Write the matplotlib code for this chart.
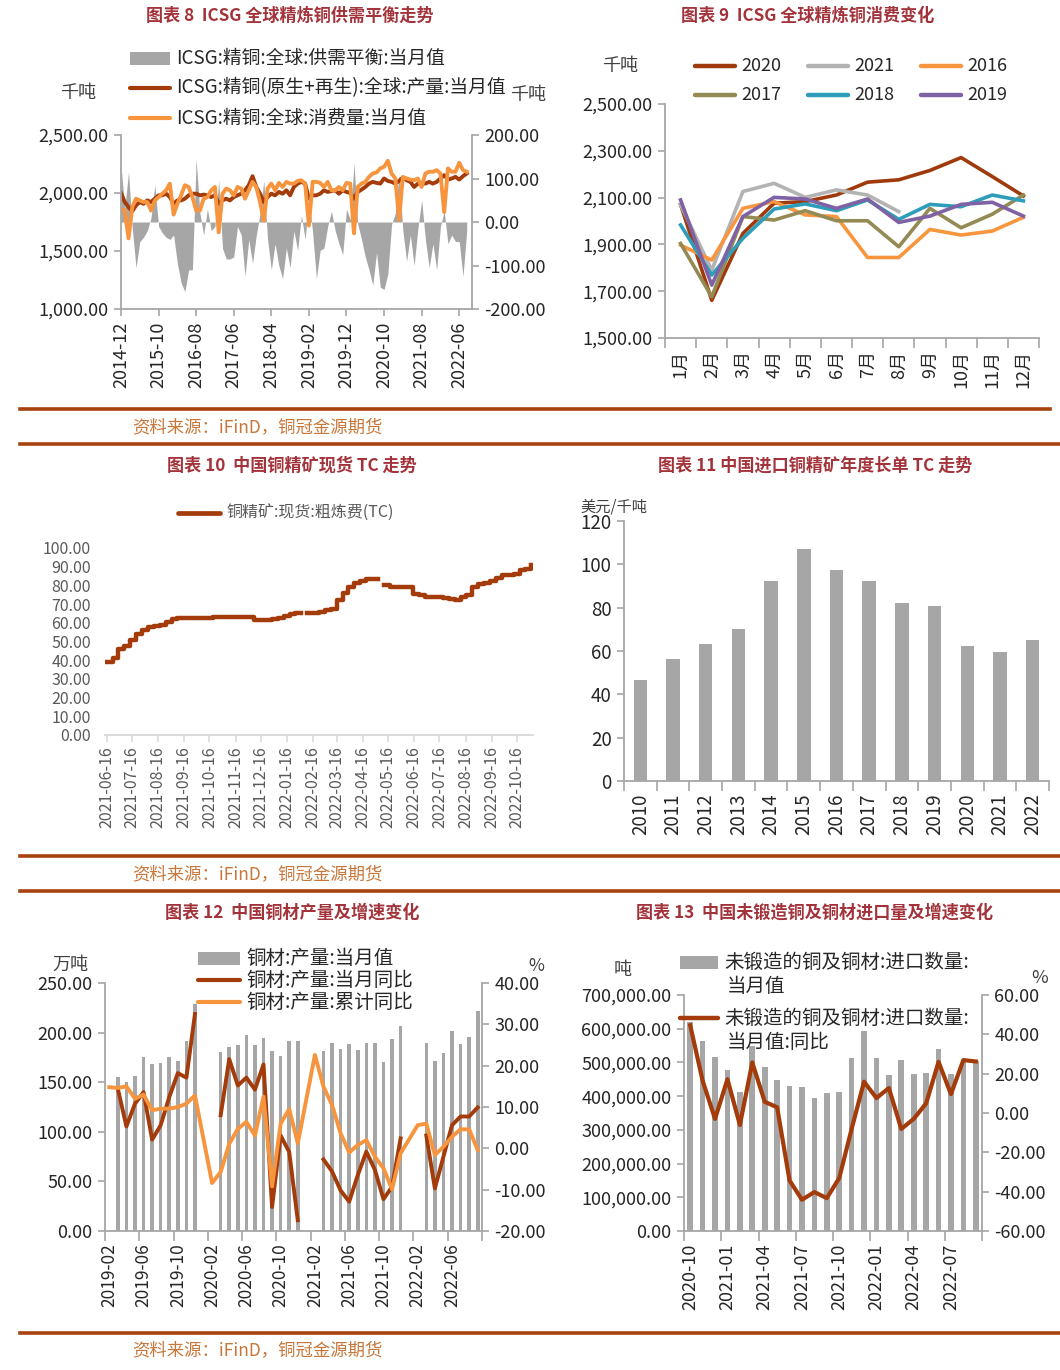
import numpy as np
import pandas as pd
import matplotlib
matplotlib.use('Agg')
import matplotlib.pyplot as plt
from matplotlib.lines import Line2D
from matplotlib.patches import Rectangle
from matplotlib.ticker import FuncFormatter

plt.rcParams['font.family'] = ['Noto Sans CJK SC', 'DejaVu Sans']
plt.rcParams['axes.unicode_minus'] = False

# ---------- 图表8: ICSG 月度 (千吨), 2014-12 .. 2022-08
icsg_months = pd.period_range('2014-12', '2022-08', freq='M').strftime('%Y-%m').tolist()
icsg_prod = [2000, 1922, 1878, 1843, 1893, 1922, 1907, 1936, 1922, 1951,
             1980, 1980, 1994, 1965, 1907, 1936, 1936, 1951, 1980, 1994,
             1994, 1980, 1986, 1980, 1965, 1980, 1907, 1936, 1951, 1936,
             1965, 1980, 1994, 2023, 2067, 2145, 2052, 1994, 1922, 1965,
             1994, 1980, 2009, 1994, 2023, 1980, 2052, 2081, 2096, 2081,
             1951, 1980, 1980, 1994, 2023, 2009, 2017, 2023, 1994, 2023,
             2009, 2000, 1951, 2009, 2029, 2052, 2081, 2096, 2087, 2081,
             2125, 2104, 2096, 2081, 2104, 2133, 2110, 2096, 2052, 2081,
             2087, 2081, 2096, 2081, 2096, 2125, 2154, 2116, 2125, 2139,
             2116, 2145, 2168]
icsg_cons = [1864, 1849, 1609, 1878, 1951, 1936, 1922, 1922, 1849, 1936,
             1965, 1994, 2023, 2081, 1814, 1907, 1980, 2067, 2052, 1965,
             1849, 1849, 1951, 1965, 2023, 2052, 1661, 1994, 2038, 2023,
             1980, 2052, 2038, 1951, 2023, 2096, 2052, 1922, 1762, 2038,
             2081, 2023, 2087, 2052, 2096, 2081, 2081, 2104, 2110, 2081,
             1719, 2096, 2096, 2087, 2052, 2096, 2023, 2023, 2052, 2023,
             2087, 2081, 1652, 2052, 2081, 2096, 2139, 2168, 2177, 2212,
             2226, 2278, 2168, 2125, 1768, 2139, 2125, 2116, 2110, 2125,
             2052, 2168, 2183, 2183, 2197, 2168, 1835, 2212, 2183, 2183,
             2261, 2197, 2183]
icsg_bal = [130, 30, 115, -15, -105, -45, -35, -20, 10, 85,
            -10, -25, -35, -40, -30, -95, -140, -160, -110, -110,
            145, 20, -30, 30, -20, -10, 95, -60, -85, -85,
            -80, -10, -30, -125, -40, -95, -30, 20, 95, -40,
            -110, -50, -100, -130, -60, -105, -20, -65, 15, -40,
            55, -25, -130, -65, -60, -10, 25, -20, -50, -75,
            30, 5, 135, -5, -40, -80, -110, -145, -70, -150,
            -155, -120, -5, 20, 110, -20, -90, -30, -100, -15,
            50, -40, -105, -50, -110, -10, 25, -50, -30, -45,
            -45, -125, -20]

# ---------- 图表9: 分年度消费 (千吨)
month_names = ['1月', '2月', '3月', '4月', '5月', '6月', '7月', '8月', '9月', '10月', '11月', '12月']
cons_2020 = [2070, 1661, 1947, 2076, 2083, 2111, 2166, 2176, 2216, 2271, 2190, 2107]
cons_2021 = [2069, 1790, 2126, 2161, 2101, 2133, 2111, 2040]
cons_2016 = [1897, 1833, 2054, 2083, 2026, 2019, 1844, 1844, 1964, 1940, 1957, 2016]
cons_2017 = [1904, 1676, 2019, 2004, 2044, 2001, 2001, 1890, 2054, 1971, 2029, 2111]
cons_2018 = [1983, 1769, 1926, 2051, 2073, 2044, 2090, 2007, 2071, 2061, 2111, 2086]
cons_2019 = [2090, 1726, 2019, 2101, 2094, 2054, 2094, 1994, 2021, 2071, 2080, 2021]

# ---------- 图表10: 现货TC, 周度 (从2021-06-16起)
tc_spot = [39, 41, 46, 47.5, 51, 54, 56, 57.5, 58.5, 59,
           60.5, 62, 62.4, 62.4, 62.5, 62.5, 62.7, 62.8, 63, 63.1,
           63.1, 63.2, 63.3, 63.2, 63.1, 61.5, 61.5, 61.5, 61.8, 62.7,
           63.5, 64.7, 65, np.nan, 65.2, 65.3, 66, 66.8, 67.5, 72,
           76.2, 79, 81.5, 82.5, 83.2, 83.3, np.nan, 80, 79.4, 79.4,
           79.4, 79.2, 75.5, 74.9, 74, 73.8, 73.6, 73.2, 72.6, 72.4,
           73.6, 74.8, 79, 80.6, 81.5, 82.3, 84.2, 85.3, 85.5, 86,
           88.4, 89, 91]

# ---------- 图表11: 年度长单TC (美元/千吨)
lt_years = ['2010', '2011', '2012', '2013', '2014', '2015', '2016',
            '2017', '2018', '2019', '2020', '2021', '2022']
lt_tc = [46.5, 56.3, 63.4, 70, 92.2, 107, 97.4, 92.5, 82.3, 80.8, 62.2, 59.5, 65]

# ---------- 图表12: 铜材产量 2019-02 .. 2022-09
nan = np.nan
cu_months = pd.period_range('2019-02', '2022-09', freq='M').strftime('%Y-%m').tolist()
cu_output = [nan, 155.6, 150, 156.6, 175, 168.4, 169.4, 175.8, 171.7, 191.9, 229,
             nan, nan, 180, 185, 187.5, 198, 187.5, 194.6, 181, 176.4, 191.2, 192,
             nan, nan, 181.1, 189.2, 183.5, 188.6, 182.5, 189.6, 189.2, 170, 193.6, 207,
             nan, nan, 189.2, 171, 179.8, 202, 188.6, 196, 221.5]
cu_yoy = [nan, 14.4, 5.3, 10.8, 13.6, 2.1, 5.6, 12.4, 18.2, 17.1, 32.5,
          nan, nan, 8.0, 21.6, 15.2, 17.1, 14.2, 20.3, -14.2, 3.1, -0.9, -17.4,
          nan, nan, -2.7, -5.6, -10.2, -12.9, -6.5, -0.8, -5.2, -12.3, -9.3, 2.4,
          nan, nan, 3.1, -9.7, -2.0, 5.6, 7.7, 7.7, 9.9]
cu_cum_yoy = [14.8, 14.6, 15.0, 12.0, 13.0, 9.2, 9.6, 9.6, 10.0, 10.8, 12.8,
              nan, -8.4, -5.7, 1.1, 4.7, 6.4, 3.1, 12.5, -9.2, 6.0, 9.5, 1.2,
              nan, 22.6, 14.9, 10.5, 3.6, -1.0, 0.8, 2.0, -2.0, -4.8, -9.9, -1.2,
              nan, 5.6, 6.0, -1.6, 0.4, 2.8, 4.6, 4.6, -0.4]

# ---------- 图表13: 未锻造铜及铜材进口 2020-10 .. 2022-09
imp_months = pd.period_range('2020-10', '2022-09', freq='M').strftime('%Y-%m').tolist()
imp_qty = [620000, 564000, 515000, 477000, 413000, 550000, 487000, 448000, 431000, 426000,
           394000, 408000, 413000, 513000, 592000, 512000, 462000, 506000, 467000, 469000,
           539000, 465000, 500000, 503000]
imp_yoy = [44.6, 16.4, -3.0, 17.2, -6.1, 25.7, 5.7, 2.9, -34.3, -44.1,
           -40.2, -43.3, -33.1, -8.1, 15.9, 7.6, 12.7, -8.1, -3.0, 4.9,
           26.0, 9.6, 26.9, 26.2]

# ---------- 样式
W, H = 1060, 1370
RUST = '#A33B0B'
ORANGE = '#F7953F'
BARC = '#A6A6A6'
AXC = '#A6A6A6'
TXT = '#262626'
TITLE_C = '#A3333A'
SRC_C = '#C8773A'
SEP_C = '#A8420F'

fig = plt.figure(figsize=(W / 100, H / 100), dpi=100)


def box(x0, y0, x1, y1):
    return [x0 / W, 1 - y1 / H, (x1 - x0) / W, (y1 - y0) / H]


def ftext(x, y, s, **kw):
    fig.text(x / W, 1 - y / H, s, **kw)


def leg_line(x, y, color, label, fs, length=40, lw=3.0, tc=TXT):
    fig.add_artist(Line2D([x / W, (x + length) / W], [1 - y / H, 1 - y / H],
                          color=color, lw=lw, solid_capstyle='round'))
    ftext(x + length + 6, y, label, fontsize=fs, color=tc, va='center', ha='left')


def leg_patch(x, y, color, label, fs, length=40, h=13, tc=TXT):
    fig.add_artist(Rectangle((x / W, 1 - (y + h / 2) / H), length / W, h / H,
                             facecolor=color, edgecolor='none'))
    ftext(x + length + 6, y, label, fontsize=fs, color=tc, va='center', ha='left')


def spines(ax, show):
    for s in ['left', 'right', 'top', 'bottom']:
        ax.spines[s].set_visible(s in show)
        ax.spines[s].set_color(AXC)
        ax.spines[s].set_linewidth(1.3)


def cat_axis(ax, labels, step, fs):
    # labels centred on categories, tick marks between categories
    n = len(labels)
    ax.set_xticks(np.arange(0, n, step))
    ax.set_xticklabels(labels[::step], rotation=90)
    ax.set_xticks(np.arange(-0.5, n, step), minor=True)
    ax.tick_params(axis='x', which='major', length=0, pad=9, labelsize=fs, labelcolor=TXT)
    ax.tick_params(axis='x', which='minor', direction='out', length=7, width=1.2, color=AXC)


fmt2 = FuncFormatter(lambda v, p: f'{v:,.2f}')

# ---------- 标题 / 分隔线 / 来源
for x, y, t in [(290, 16, '图表 8  ICSG 全球精炼铜供需平衡走势'),
                (808, 16, '图表 9  ICSG 全球精炼铜消费变化'),
                (292, 466, '图表 10  中国铜精矿现货 TC 走势'),
                (815, 466, '图表 11 中国进口铜精矿年度长单 TC 走势'),
                (292, 913, '图表 12  中国铜材产量及增速变化'),
                (815, 913, '图表 13  中国未锻造铜及铜材进口量及增速变化')]:
    ftext(x, y, t, fontsize=12.3, fontweight='bold', color=TITLE_C, ha='center', va='center')

for y, x0, x1 in [(409, 20, 1050), (444, 20, 1060), (856, 20, 1060), (891, 20, 1060), (1333, 20, 1060)]:
    fig.add_artist(Line2D([x0 / W, x1 / W], [1 - y / H, 1 - y / H], color=SEP_C, lw=2.6))
for y in [427, 874, 1350]:
    ftext(132, y, '资料来源：iFinD，铜冠金源期货', fontsize=12.5, color=SRC_C, va='center', ha='left')

# ---------- 图表8
ax8 = fig.add_axes(box(121, 135, 472, 309))
ax8r = ax8.twinx()
x8 = np.arange(len(icsg_prod))
ax8r.fill_between(x8, 0, icsg_bal, color=BARC, lw=0)
ax8.plot(x8, icsg_prod, color=RUST, lw=2.8)
ax8.plot(x8, icsg_cons, color=ORANGE, lw=2.8)
ax8.set_zorder(ax8r.get_zorder() + 1)
ax8.patch.set_visible(False)
ax8.set_xlim(0, 93.4)
ax8.set_ylim(1000, 2500)
ax8r.set_ylim(-200, 200)
ax8.set_yticks([1000, 1500, 2000, 2500])
ax8r.set_yticks([-200, -100, 0, 100, 200])
ax8.yaxis.set_major_formatter(fmt2)
ax8r.yaxis.set_major_formatter(fmt2)
ax8.set_xticks(x8[::10])
ax8.set_xticklabels(icsg_months[::10], rotation=90)
spines(ax8, ['left', 'bottom'])
spines(ax8r, ['right'])
for a in (ax8, ax8r):
    a.tick_params(direction='out', length=5, width=1.2, color=AXC, labelsize=13, labelcolor=TXT, pad=4)
ftext(78, 93, '千吨', fontsize=13, color='#404040', ha='center', va='center')
ftext(528, 95, '千吨', fontsize=13, color='#404040', ha='center', va='center')
leg_patch(130, 58, BARC, 'ICSG:精铜:全球:供需平衡:当月值', 13.5)
leg_line(130, 88, RUST, 'ICSG:精铜(原生+再生):全球:产量:当月值', 13.5)
leg_line(130, 118, ORANGE, 'ICSG:精铜:全球:消费量:当月值', 13.5)

# ---------- 图表9
ax9 = fig.add_axes(box(665, 104, 1039, 338))
series9 = [('2020', cons_2020, '#9E3A0C'), ('2021', cons_2021, '#B3B3B3'),
           ('2016', cons_2016, '#F7963F'), ('2017', cons_2017, '#948A54'),
           ('2018', cons_2018, '#2E9DBA'), ('2019', cons_2019, '#7F62A3')]
for name, vals, c in series9:
    ax9.plot(np.arange(len(vals)), vals, color=c, lw=2.6)
ax9.set_xlim(-0.5, 11.5)
ax9.set_ylim(1500, 2500)
ax9.set_yticks(range(1500, 2501, 200))
ax9.yaxis.set_major_formatter(fmt2)
spines(ax9, ['left', 'bottom'])
ax9.tick_params(axis='y', direction='out', length=5, width=1.2, color=AXC, labelsize=13, labelcolor=TXT, pad=4)
cat_axis(ax9, month_names, 1, 13)
ftext(620, 66, '千吨', fontsize=13, color='#404040', ha='center', va='center')
pos9 = [(695, 66), (808, 66), (921, 66), (695, 95), (808, 95), (921, 95)]
for (name, vals, c), (lx, ly) in zip(series9, pos9):
    leg_line(lx, ly, c, name, 13, lw=3.2)

# ---------- 图表10
ax10 = fig.add_axes(box(105, 548, 533, 735))
tc_dates = pd.date_range('2021-06-16', periods=len(tc_spot), freq='7D')
ax10.plot(tc_dates, tc_spot, color=RUST, lw=3.2, drawstyle='steps-post')
ax10.set_xlim(pd.Timestamp('2021-06-14'), pd.Timestamp('2022-11-04'))
ax10.set_ylim(0, 100)
ax10.set_yticks(range(0, 101, 10))
ax10.yaxis.set_major_formatter(fmt2)
tick_dates = pd.date_range('2021-06-16', periods=17, freq=pd.DateOffset(months=1))
ax10.set_xticks(tick_dates)
ax10.set_xticklabels([d.strftime('%Y-%m-%d') for d in tick_dates], rotation=90)
spines(ax10, ['bottom'])
ax10.spines['bottom'].set_color('#D9D9D9')
ax10.tick_params(axis='x', direction='out', length=5, width=1.2, color='#D9D9D9',
                 labelsize=11.5, labelcolor='#595959', pad=3)
ax10.tick_params(axis='y', length=0, labelsize=11.5, labelcolor='#595959', pad=10)
leg_line(178, 513, RUST, '铜精矿:现货:粗炼费(TC)', 11.5, length=42, lw=3.4, tc='#595959')

# ---------- 图表11
ax11 = fig.add_axes(box(624, 521, 1049, 781))
ax11.bar(np.arange(len(lt_tc)), lt_tc, width=0.41, color=BARC)
ax11.set_xlim(-0.5, len(lt_tc) - 0.5)
ax11.set_ylim(0, 120)
ax11.set_yticks(range(0, 121, 20))
spines(ax11, ['left', 'bottom'])
ax11.tick_params(axis='y', direction='out', length=5, width=1.2, color=AXC, labelsize=13.5, labelcolor=TXT, pad=4)
cat_axis(ax11, lt_years, 1, 13.5)
ftext(614, 507, '美元/千吨', fontsize=11, color='#404040', ha='center', va='center')

# ---------- 图表12
ax12 = fig.add_axes(box(105, 983, 482, 1231))
ax12r = ax12.twinx()
t12 = np.arange(len(cu_months))
ax12.bar(t12, cu_output, width=0.42, color=BARC)
yoy = np.array(cu_yoy, dtype=float)
ax12r.plot(t12, yoy, color=RUST, lw=2.8)
cum = np.array(cu_cum_yoy, dtype=float)
ok = ~np.isnan(cum)
ax12r.plot(t12[ok], cum[ok], color=ORANGE, lw=2.8)
ax12.set_xlim(-0.5, len(cu_months) - 0.5)
ax12.set_ylim(0, 250)
ax12r.set_ylim(-20, 40)
ax12.set_yticks(range(0, 251, 50))
ax12r.set_yticks(range(-20, 41, 10))
ax12.yaxis.set_major_formatter(fmt2)
ax12r.yaxis.set_major_formatter(fmt2)
spines(ax12, ['left', 'bottom'])
spines(ax12r, ['right'])
for a in (ax12, ax12r):
    a.tick_params(axis='y', direction='out', length=5, width=1.2, color=AXC, labelsize=13, labelcolor=TXT, pad=4)
cat_axis(ax12, cu_months, 4, 12.5)
ftext(70, 965, '万吨', fontsize=13, color='#404040', ha='center', va='center')
ftext(536, 966, '%', fontsize=12.5, color='#404040', ha='center', va='center')
leg_patch(198, 958, BARC, '铜材:产量:当月值', 14, length=42)
leg_line(198, 980, RUST, '铜材:产量:当月同比', 14, length=42)
leg_line(198, 1002, ORANGE, '铜材:产量:累计同比', 14, length=42)

# ---------- 图表13
ax13 = fig.add_axes(box(684, 995, 982, 1231))
ax13r = ax13.twinx()
t13 = np.arange(len(imp_months))
ax13.bar(t13, imp_qty, width=0.45, color=BARC)
ax13r.plot(t13, imp_yoy, color=RUST, lw=3.0)
ax13.set_xlim(-0.5, len(imp_months) - 0.5)
ax13.set_ylim(0, 700000)
ax13r.set_ylim(-60, 60)
ax13.set_yticks(range(0, 700001, 100000))
ax13r.set_yticks(range(-60, 61, 20))
ax13.yaxis.set_major_formatter(fmt2)
ax13r.yaxis.set_major_formatter(fmt2)
spines(ax13, ['left', 'bottom'])
spines(ax13r, ['right'])
for a in (ax13, ax13r):
    a.tick_params(axis='y', direction='out', length=5, width=1.2, color=AXC, labelsize=13, labelcolor=TXT, pad=4)
cat_axis(ax13, imp_months, 3, 13)
ftext(623, 970, '吨', fontsize=13, color='#404040', ha='center', va='center')
ftext(1040, 978, '%', fontsize=13, color='#404040', ha='center', va='center')
leg_patch(680, 962, BARC, '未锻造的铜及铜材:进口数量:', 14, length=38)
ftext(727, 987, '当月值', fontsize=14, color=TXT, va='center', ha='left')
leg_line(680, 1018, RUST, '未锻造的铜及铜材:进口数量:', 14, length=38, lw=3.2)
ftext(727, 1043, '当月值:同比', fontsize=14, color=TXT, va='center', ha='left')

fig.savefig('out.png', dpi=100)
